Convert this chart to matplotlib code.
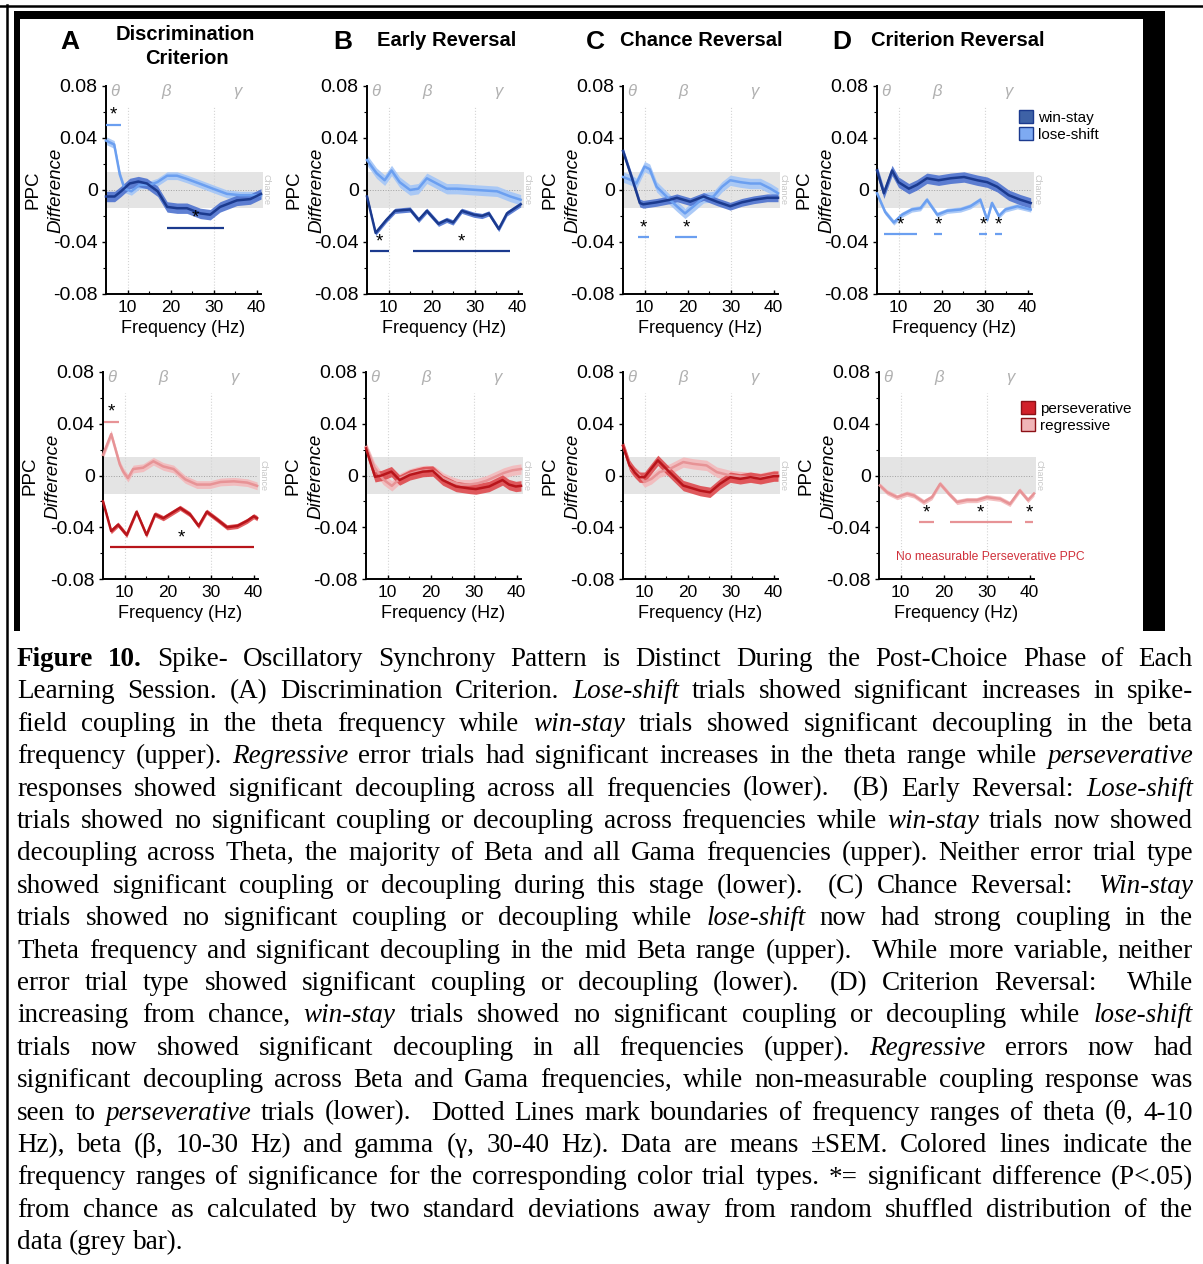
# import packages
import matplotlib
matplotlib.use('Agg')
import matplotlib.pyplot as plt
from matplotlib.patches import Rectangle, Patch

plt.rcParams['font.family'] = ['Liberation Sans', 'DejaVu Sans']

# ---------------- data ----------------
freq_ticks = [10, 20, 30, 40]
ppc_ticks = [-0.08, -0.04, 0, 0.04, 0.08]
ppc_tick_labels = ['-0.08', '-0.04', '0', '0.04', '0.08']
chance_band = 0.014

# A - Discrimination Criterion
a_ws_f = [5, 7, 8.5, 10.5, 12.5, 14.5, 17, 19.2, 21.5, 23.8, 26.9, 29.2, 31.5, 35.4, 38.5, 41]
a_ws_y = [-0.005, -0.005, -0.001, 0.005, 0.0065, 0.005, -0.001, -0.013, -0.014, -0.014, -0.018, -0.019, -0.013, -0.008, -0.007, -0.003]
a_ls_f = [5, 6.9, 8.2, 9.3, 10.9, 12.8, 15.2, 16.9, 19.2, 21.5, 23.8, 26.9, 30, 33.1, 36.2, 39.3, 41]
a_ls_y = [0.038, 0.035, 0.012, 0.001, -0.001, 0.004, 0.004, 0.006, 0.011, 0.011, 0.0085, 0.0047, 0.0008, -0.003, -0.004, -0.004, -0.004]
a_per_f = [5, 6.9, 8.5, 10.5, 12.8, 15.1, 17.1, 19, 22.9, 25.2, 27.2, 29.1, 31.5, 33.8, 36.2, 38.5, 40, 40.8]
a_per_y = [-0.020, -0.043, -0.038, -0.046, -0.028, -0.046, -0.030, -0.033, -0.025, -0.030, -0.039, -0.028, -0.034, -0.040, -0.039, -0.035, -0.0315, -0.033]
a_reg_f = [5, 6.9, 8.9, 9.7, 10.8, 12, 14.3, 16.7, 19, 21.4, 24.1, 26.8, 29.9, 32.3, 35.4, 38.5, 40.8]
a_reg_y = [0.016, 0.032, 0.0085, 0.003, -0.002, 0.005, 0.006, 0.011, 0.007, 0.005, -0.003, -0.007, -0.007, -0.005, -0.0045, -0.0055, -0.008]

# B - Early Reversal
b_ws_f = [5, 7, 9.5, 11.5, 15, 17, 18.9, 21.6, 23.5, 25, 27, 29.8, 31.7, 33.3, 35.6, 37.5, 40.7]
b_ws_y = [-0.005, -0.033, -0.023, -0.016, -0.015, -0.023, -0.016, -0.026, -0.023, -0.025, -0.016, -0.019, -0.020, -0.018, -0.030, -0.018, -0.011]
b_ls_f = [5, 7.2, 9.1, 10.7, 12.6, 15, 16.9, 18.9, 21.2, 23.5, 25.9, 30.5, 35.2, 38.3, 40.7]
b_ls_y = [0.023, 0.013, 0.0075, 0.015, 0.006, 0.0, 0.001, 0.009, 0.005, 0.001, 0.001, 0.0, -0.001, -0.005, -0.0075]
b_per_f = [5, 7.1, 8.6, 10.9, 12.8, 15.2, 18.2, 20.5, 22.8, 25.9, 29, 30.5, 33.6, 36.7, 38.2, 39.8, 41]
b_per_y = [0.021, -0.001, 0.0, 0.003, -0.0035, 0.0005, 0.003, 0.0035, -0.0035, -0.0085, -0.010, -0.0105, -0.0085, -0.0035, -0.007, -0.0085, -0.008]
b_reg_f = [5, 7, 9, 11, 13, 15, 17, 19, 21, 23, 25, 27, 29, 31, 33, 35, 37, 39, 41]
b_reg_y = [0.022, 0.006, -0.003, -0.008, -0.002, 0.001, 0.003, 0.004, 0.003, -0.002, -0.005, -0.007, -0.007, -0.006, -0.004, -0.001, 0.002, 0.004, 0.005]

# C - Chance Reversal
c_ws_f = [5, 7, 8.9, 9.7, 12.8, 15.9, 17.5, 20.6, 23.7, 26.8, 29.9, 32.6, 35.4, 38.5, 41]
c_ws_y = [0.030, 0.010, -0.010, -0.011, -0.0095, -0.0075, -0.006, -0.009, -0.005, -0.009, -0.0125, -0.0095, -0.0075, -0.006, -0.006]
c_ls_f = [5, 7, 8.1, 10, 11.2, 12.8, 15.1, 17.5, 19.4, 21.4, 23.7, 26, 28, 29.9, 32.3, 34.6, 36.9, 39.3, 41]
c_ls_y = [0.010, 0.0075, 0.005, 0.018, 0.016, 0.0025, -0.005, -0.0125, -0.018, -0.0125, -0.006, -0.005, 0.0025, 0.0075, 0.006, 0.005, 0.005, 0.001, -0.0025]
c_per_f = [5, 6.5, 7.7, 8.8, 10, 13.1, 15.8, 19, 22.9, 25.2, 27.5, 29.9, 32.2, 34.6, 36.9, 40, 41]
c_per_y = [0.023, 0.008, 0.0025, -0.0013, -0.0013, 0.0117, 0.0026, -0.0078, -0.0117, -0.013, -0.0065, -0.0013, -0.0026, -0.0013, -0.0026, -0.0005, -0.0005]
c_reg_f = [5, 6.9, 8.8, 10, 11.6, 13.5, 15.8, 19, 21.3, 24.4, 26.8, 29.9, 33.8, 36.9, 40, 41]
c_reg_y = [0.023, 0.005, 0.0, -0.005, -0.0026, 0.0026, 0.005, 0.0104, 0.009, 0.0078, 0.0026, 0.0, -0.0013, -0.002, 0.0, 0.0]

# D - Criterion Reversal
d_ws_f = [5, 6.6, 8.5, 10, 12.4, 14.3, 16.6, 19.3, 22.1, 25.2, 28.3, 30.6, 32.9, 35.6, 38.3, 40.7]
d_ws_y = [0.015, -0.0025, 0.015, 0.006, 0.001, 0.004, 0.009, 0.0075, 0.009, 0.010, 0.0075, 0.006, 0.0025, -0.004, -0.0075, -0.010]
d_ls_f = [5, 6.9, 8.9, 10.8, 13.1, 15.1, 16.6, 19, 21.3, 24.4, 26.7, 29, 30.6, 31.7, 33.3, 34.8, 37.6, 40.7]
d_ls_y = [-0.0025, -0.017, -0.025, -0.019, -0.015, -0.014, -0.0075, -0.019, -0.016, -0.015, -0.0125, -0.0075, -0.023, -0.010, -0.020, -0.015, -0.0125, -0.015]
d_reg_f = [5.2, 6.9, 9.2, 11.5, 13.1, 15.4, 17.3, 19.2, 21.2, 23.1, 25.4, 27.7, 30, 33.1, 35.4, 37.7, 39.6, 41]
d_reg_y = [-0.0077, -0.013, -0.0167, -0.014, -0.0154, -0.0205, -0.0167, -0.0064, -0.014, -0.0205, -0.019, -0.019, -0.0167, -0.018, -0.022, -0.0115, -0.019, -0.014]

# SEM half-widths of the shaded bands
sem_upper = {'A': (0.004, 0.003), 'B': (0.002, 0.004), 'C': (0.003, 0.004), 'D': (0.004, 0.002)}
sem_lower = {'A': (0.002, 0.003), 'B': (0.004, 0.004), 'C': (0.004, 0.004), 'D': (None, 0.002)}

# significance bars: (start Hz, end Hz, PPC level)
a_ls_sig = [(5, 8.5, 0.050)]
a_ws_sig = [(19.2, 32.5, -0.029)]
b_ws_sig = [(5.6, 10, -0.047), (15.7, 38.3, -0.047)]
c_ls_sig = [(8.5, 11.1, -0.0365), (17.1, 22.1, -0.0365)]
d_ls_sig = [(6.6, 14.3, -0.034), (18.2, 20.1, -0.034), (28.6, 30.6, -0.034), (32.3, 34.1, -0.034)]
a_reg_sig = [(5.2, 8.7, 0.0415)]
a_per_sig = [(6.6, 40, -0.0555)]
d_reg_sig = [(14.2, 17.7, -0.036), (21.5, 35.8, -0.036), (39, 40.8, -0.036)]

panel_letters = ['A', 'B', 'C', 'D']
panel_titles = ['Discrimination', 'Early Reversal', 'Chance Reversal', 'Criterion Reversal']
band_names = [(7, '\u03b8'), (19, '\u03b2'), (35.5, '\u03b3')]

caption_lines = [
    "^Figure ^10. Spike- Oscillatory Synchrony Pattern is Distinct During the Post-Choice Phase of Each",
    "Learning Session. (A) Discrimination Criterion. _Lose-shift trials showed significant increases in spike-",
    "field coupling in the theta frequency while _win-stay trials showed significant decoupling in the beta",
    "frequency (upper). _Regressive error trials had significant increases in the theta range while _perseverative",
    "responses showed significant decoupling across all frequencies (lower).  (B) Early Reversal: _Lose-shift",
    "trials showed no significant coupling or decoupling across frequencies while _win-stay trials now showed",
    "decoupling across Theta, the majority of Beta and all Gama frequencies (upper). Neither error trial type",
    "showed significant coupling or decoupling during this stage (lower).  (C) Chance Reversal:  _Win-stay",
    "trials showed no significant coupling or decoupling while _lose-shift now had strong coupling in the",
    "Theta frequency and significant decoupling in the mid Beta range (upper).  While more variable, neither",
    "error trial type showed significant coupling or decoupling (lower).  (D) Criterion Reversal:  While",
    "increasing from chance, _win-stay trials showed no significant coupling or decoupling while _lose-shift",
    "trials now showed significant decoupling in all frequencies (upper). _Regressive errors now had",
    "significant decoupling across Beta and Gama frequencies, while non-measurable coupling response was",
    "seen to _perseverative trials (lower).  Dotted Lines mark boundaries of frequency ranges of theta (\u03b8, 4-10",
    "Hz), beta (\u03b2, 10-30 Hz) and gamma (\u03b3, 30-40 Hz). Data are means \u00b1SEM. Colored lines indicate the",
    "frequency ranges of significance for the corresponding color trial types. *= significant difference (P<.05)",
    "from chance as calculated by two standard deviations away from random shuffled distribution of the",
    "data (grey bar).",
]

# colours: (line, band)
colors = {
    'ws': ('#1b3a8e', '#4d72cf'),
    'ls': ('#6b9ff0', '#a3c5f7'),
    'per': ('#b8151b', '#de4a4e'),
    'reg': ('#e79396', '#f3b9bb'),
}

W, H = 1203, 1264
fig = plt.figure(figsize=(W / 100, H / 100), dpi=100)

# background axes in pixel units (frames, titles, caption)
bg = fig.add_axes([0, 0, 1, 1], zorder=-5)
bg.set_xlim(0, W)
bg.set_ylim(H, 0)
bg.axis('off')

# thin outer box and thick frame around the figure image
bg.plot([0, W], [5.5, 5.5], color='black', lw=1.8)
bg.plot([6.5, 6.5], [5, H], color='black', lw=1.8)
bg.add_patch(Rectangle((14, 11), 1151, 8, color='black', lw=0))
bg.add_patch(Rectangle((14, 11), 6, 620, color='black', lw=0))
bg.add_patch(Rectangle((1143, 11), 22, 620, color='black', lw=0))


def px_axes(left, top, w, h):
    return fig.add_axes([left / W, 1 - (top + h) / H, w / W, h / H])


def draw_panel(ax, series, sigs):
    ax.axhspan(-chance_band, chance_band, xmin=0, xmax=1.014, color='#e4e4e4', lw=0, zorder=0, clip_on=False)
    ax.plot([5, 41.3], [0, 0], color='#a0a0a0', lw=0.7, ls=':', zorder=1)
    ax.text(42.1, 0, 'Chance', rotation=-90, fontsize=6.5, color='#c8c8c8', ha='center', va='center', clip_on=False)
    for xv in (10, 30):
        ax.plot([xv, xv], [-0.08, 0.064], color='#d4d4d4', lw=0.8, ls=':', zorder=1)
    for xv, s in band_names:
        ax.text(xv, 0.076, s, fontsize=12, color='#b0b0b0', style='italic', ha='center', va='center')
    for f, y, sem, kind in series:
        line_c, band_c = colors[kind]
        lo = [v - sem for v in y]
        hi = [v + sem for v in y]
        ax.fill_between(f, lo, hi, color=band_c, lw=0, alpha=0.9, zorder=2, clip_on=False)
        ax.plot(f, y, color=line_c, lw=1.8, zorder=3, clip_on=False)
    for bars, kind in sigs:
        for x0, x1, yv in bars:
            ax.plot([x0, x1], [yv, yv], color=colors[kind][0], lw=1.6, solid_capstyle='butt', zorder=3)
            ax.text((x0 + x1) / 2, yv + 0.0008, '*', fontsize=13.5, ha='center', va='bottom', zorder=4)
    ax.set_xlim(5, 41)
    ax.set_ylim(-0.08, 0.08)
    ax.set_xticks(freq_ticks)
    ax.set_xticks([15, 25, 35], minor=True)
    ax.set_yticks(ppc_ticks)
    ax.set_yticklabels(ppc_tick_labels)
    ax.set_yticks([-0.06, -0.02, 0.02, 0.06], minor=True)
    ax.tick_params(axis='y', labelsize=14, length=3, width=1, direction='out', pad=3)
    ax.tick_params(axis='y', which='minor', length=2, width=0.8)
    ax.tick_params(axis='x', labelsize=12.5, length=3, width=1, direction='in', pad=4)
    ax.tick_params(axis='x', which='minor', length=2, width=0.8, direction='in')
    for sp in ('top', 'right'):
        ax.spines[sp].set_visible(False)
    for sp in ('left', 'bottom'):
        ax.spines[sp].set_linewidth(1.4)
    ax.set_xlabel('Frequency (Hz)', fontsize=13, labelpad=4)
    ax.patch.set_alpha(0)


upper_left = [106, 367, 623, 877]
lower_left = [103, 366, 623, 879]

upper_series = [
    [(a_ls_f, a_ls_y, sem_upper['A'][1], 'ls'), (a_ws_f, a_ws_y, sem_upper['A'][0], 'ws')],
    [(b_ls_f, b_ls_y, sem_upper['B'][1], 'ls'), (b_ws_f, b_ws_y, sem_upper['B'][0], 'ws')],
    [(c_ls_f, c_ls_y, sem_upper['C'][1], 'ls'), (c_ws_f, c_ws_y, sem_upper['C'][0], 'ws')],
    [(d_ls_f, d_ls_y, sem_upper['D'][1], 'ls'), (d_ws_f, d_ws_y, sem_upper['D'][0], 'ws')],
]
upper_sigs = [
    [(a_ls_sig, 'ls'), (a_ws_sig, 'ws')],
    [(b_ws_sig, 'ws')],
    [(c_ls_sig, 'ls')],
    [(d_ls_sig, 'ls')],
]
lower_series = [
    [(a_reg_f, a_reg_y, sem_lower['A'][1], 'reg'), (a_per_f, a_per_y, sem_lower['A'][0], 'per')],
    [(b_reg_f, b_reg_y, sem_lower['B'][1], 'reg'), (b_per_f, b_per_y, sem_lower['B'][0], 'per')],
    [(c_reg_f, c_reg_y, sem_lower['C'][1], 'reg'), (c_per_f, c_per_y, sem_lower['C'][0], 'per')],
    [(d_reg_f, d_reg_y, sem_lower['D'][1], 'reg')],
]
lower_sigs = [
    [(a_reg_sig, 'reg'), (a_per_sig, 'per')],
    [],
    [],
    [(d_reg_sig, 'reg')],
]

for i in range(4):
    ax = px_axes(upper_left[i], 86, 155, 208)
    draw_panel(ax, upper_series[i], upper_sigs[i])
    bg.text(upper_left[i] - 73, 190, 'PPC', rotation=90, fontsize=13.5, ha='center', va='center')
    bg.text(upper_left[i] - 50, 190, 'Difference', rotation=90, fontsize=13.5, style='italic', ha='center', va='center')
    ax2 = px_axes(lower_left[i], 372, 155, 207)
    draw_panel(ax2, lower_series[i], lower_sigs[i])
    bg.text(lower_left[i] - 73, 476, 'PPC', rotation=90, fontsize=13.5, ha='center', va='center')
    bg.text(lower_left[i] - 50, 476, 'Difference', rotation=90, fontsize=13.5, style='italic', ha='center', va='center')

bg.text(990, 557, 'No measurable Perseverative PPC', fontsize=8.7, color='#d0303a', ha='center', va='center')

# panel letters and titles
letter_x = [70, 343, 595, 842]
for i in range(4):
    bg.text(letter_x[i], 42, panel_letters[i], fontsize=19, fontweight='bold', ha='center', va='center')
bg.text(185, 34, panel_titles[0], fontsize=14.5, fontweight='bold', ha='center', va='center')
bg.text(187, 59, 'Criterion', fontsize=14.5, fontweight='bold', ha='center', va='center')
title_x = [None, 377, 620, 871]
for i in range(1, 4):
    bg.text(title_x[i], 41, panel_titles[i], fontsize=14.5, fontweight='bold', ha='left', va='center')

# legends
fig.legend(handles=[Patch(facecolor='#3e62a6', edgecolor='#1b3a8e'),
                    Patch(facecolor='#7eaaf2', edgecolor='#1b3a8e')],
           labels=['win-stay', 'lose-shift'], loc='upper left',
           bbox_to_anchor=(1019 / W, 1 - 110 / H), frameon=False, fontsize=11,
           handlelength=0.9, handleheight=0.9, handletextpad=0.35, labelspacing=0.15,
           borderpad=0, borderaxespad=0)
fig.legend(handles=[Patch(facecolor='#d1202a', edgecolor='#8c1016'),
                    Patch(facecolor='#f0b5b8', edgecolor='#8c1016')],
           labels=['perseverative', 'regressive'], loc='upper left',
           bbox_to_anchor=(1021 / W, 1 - 401 / H), frameon=False, fontsize=11,
           handlelength=0.9, handleheight=0.9, handletextpad=0.35, labelspacing=0.15,
           borderpad=0, borderaxespad=0)

# caption, justified word by word
cap_fs = 19.5
cap_x0, cap_x1 = 17, 1193
cap_y0, cap_dy = 666, 32.4
renderer = fig.canvas.get_renderer()
for i, line in enumerate(caption_lines):
    yb = cap_y0 + i * cap_dy
    words, gaps, pending = [], [], 0
    for p in line.split(' '):
        if p == '':
            pending += 1
            continue
        if words:
            gaps.append(pending + 1)
        pending = 0
        words.append(p)
    texts = []
    for w in words:
        kw = {}
        if w.startswith('_'):
            w, kw = w[1:], {'style': 'italic'}
        elif w.startswith('^'):
            w, kw = w[1:], {'fontweight': 'bold'}
        texts.append(bg.text(0, yb, w, fontsize=cap_fs, family='Liberation Serif', va='baseline', ha='left', **kw))
    widths = [t.get_window_extent(renderer).width for t in texts]
    if i == len(caption_lines) - 1:
        unit = cap_fs * 100 / 72 * 0.25
    else:
        unit = (cap_x1 - cap_x0 - sum(widths)) / sum(gaps)
    x = cap_x0
    for k, t in enumerate(texts):
        t.set_x(x)
        x += widths[k]
        if k < len(gaps):
            x += gaps[k] * unit

fig.savefig('out.png', dpi=100)
